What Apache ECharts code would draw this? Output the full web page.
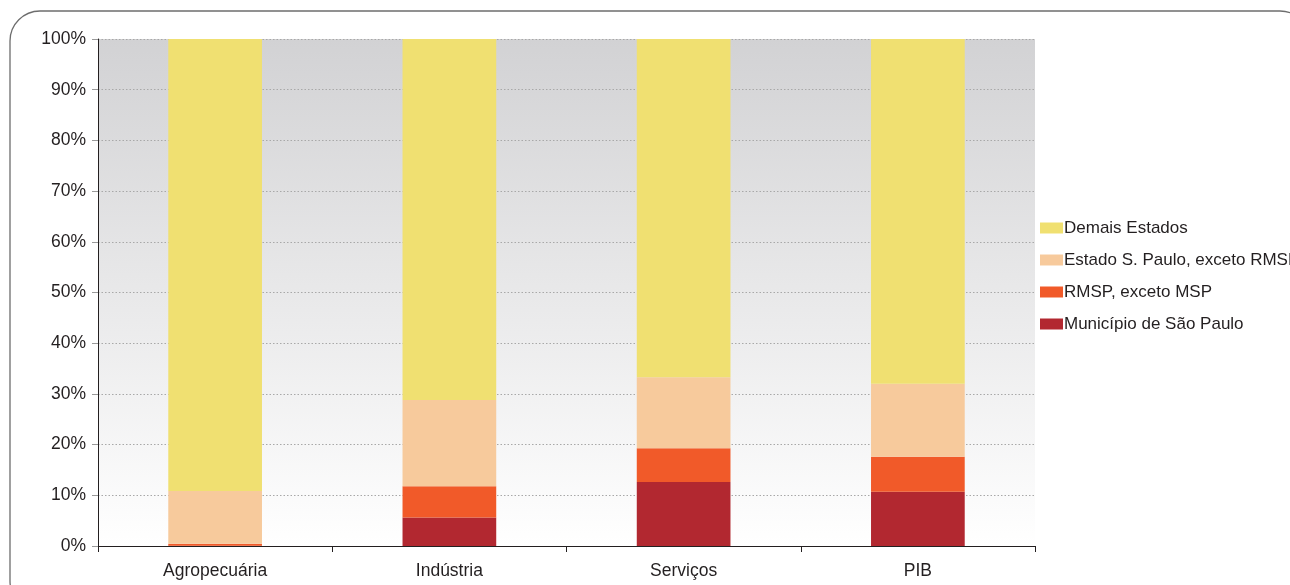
<!DOCTYPE html>
<html><head><meta charset="utf-8">
<script src="https://cdn.jsdelivr.net/npm/echarts@6/dist/echarts.min.js"></script>
<style>html,body{margin:0;padding:0;background:#fff}#c{width:1290px;height:585px}</style>
</head><body><div id="c"></div>
<script>
const categories = ['Agropecuária', 'Indústria', 'Serviços', 'PIB'];
const municipioSP = [0.05, 5.6, 12.6, 10.7];
const rmspExcetoMSP = [0.4, 6.2, 6.7, 6.9];
const estadoExcetoRMSP = [10.4, 17.0, 14.0, 14.4];
const demaisEstados = [89.15, 71.2, 66.7, 68.0];
const yTicks = ['0%', '10%', '20%', '30%', '40%', '50%', '60%', '70%', '80%', '90%', '100%'];

const chart = echarts.init(document.getElementById('c'));
const font = 'Liberation Sans, Arial, sans-serif';
function s(name, data, color) {
  return { name, type: 'bar', stack: 'a', data, barWidth: '40%', itemStyle: { color }, emphasis: { disabled: true } };
}
chart.setOption({
  animation: false,
  graphic: [{
    type: 'rect', shape: { x: 10, y: 11, width: 1300, height: 600, r: 30 },
    style: { fill: 'none', stroke: '#6d6d6d', lineWidth: 1.3 }, z: -10
  }],
  grid: {
    left: 98, right: 255, top: 39, bottom: 39, show: true, borderWidth: 0,
    backgroundColor: new echarts.graphic.LinearGradient(0, 0, 0, 1, [
      { offset: 0, color: '#d2d2d4' }, { offset: 1, color: '#ffffff' }
    ])
  },
  legend: {
    orient: 'vertical', left: 1040, top: 219, padding: 0, itemWidth: 23, itemHeight: 11, itemGap: 14,
    icon: 'rect',
    textStyle: { fontFamily: font, fontSize: 17, lineHeight: 18, color: '#231f20', padding: [0, 0, 0, -4] },
    data: ['Demais Estados', 'Estado S. Paulo, exceto RMSP', 'RMSP, exceto MSP', 'Município de São Paulo']
  },
  xAxis: {
    type: 'category', data: categories,
    axisLine: { lineStyle: { color: '#231f20', width: 1.2 } },
    axisTick: { show: true, length: 6, lineStyle: { color: '#231f20' } },
    axisLabel: { fontFamily: font, fontSize: 17.5, color: '#231f20', margin: 16 }
  },
  yAxis: {
    type: 'value', min: 0, max: 100, interval: 10,
    axisLine: { show: true, lineStyle: { color: '#231f20', width: 1 } },
    axisTick: { show: true, length: 6, lineStyle: { color: '#999' } },
    axisLabel: { fontFamily: font, fontSize: 17.5, color: '#231f20', margin: 12,
      formatter: (v) => yTicks[Math.round(v / 10)] },
    splitLine: { lineStyle: { color: '#a8a8a8', type: [1.5, 2], width: 1 } }
  },
  series: [
    s('Município de São Paulo', municipioSP, '#b22830'),
    s('RMSP, exceto MSP', rmspExcetoMSP, '#f15a29'),
    s('Estado S. Paulo, exceto RMSP', estadoExcetoRMSP, '#f7ca9c'),
    s('Demais Estados', demaisEstados, '#f0e071')
  ]
});
</script></body></html>
